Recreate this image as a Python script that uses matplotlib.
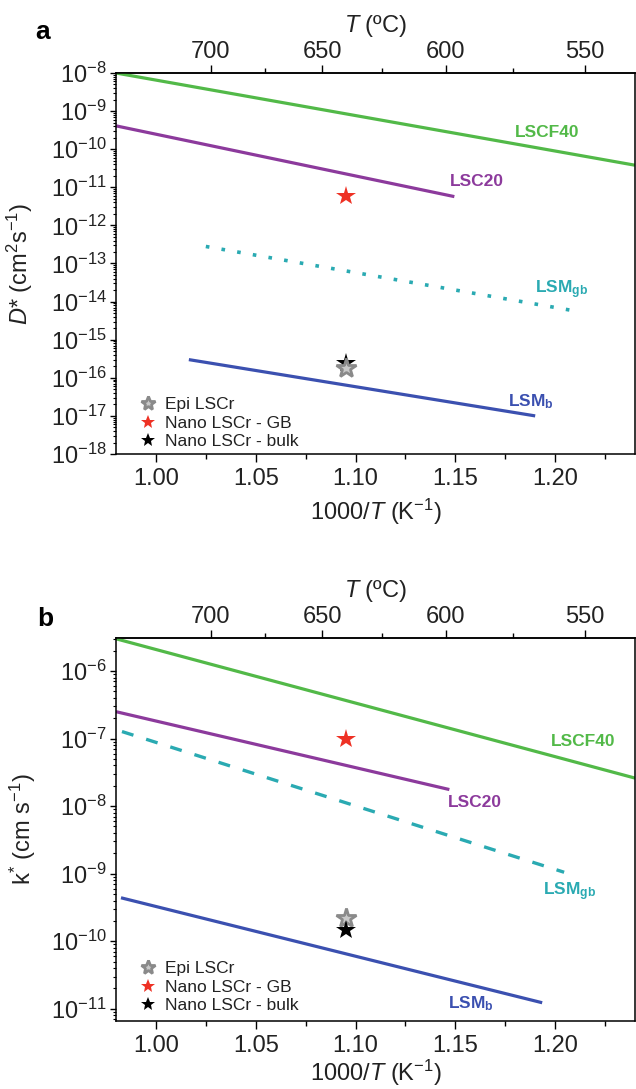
import numpy as np
import matplotlib
matplotlib.use("Agg")
import matplotlib.pyplot as plt
from matplotlib.ticker import NullFormatter, FixedLocator, LogFormatterSciNotation

plt.rcParams['font.family'] = ['Liberation Sans', 'DejaVu Sans']
plt.rcParams['mathtext.fontset'] = 'custom'
plt.rcParams['mathtext.rm'] = 'Liberation Sans'
plt.rcParams['mathtext.it'] = 'Liberation Sans:italic'
plt.rcParams['mathtext.bf'] = 'Liberation Sans:bold'

# ---------------- data (panel a: D*, cm2/s) ----------------
a_lscf40_x = [0.98, 1.24]
a_lscf40_y = [1.0e-8, 3.8e-11]
a_lsc20_x = [0.98, 1.1495]
a_lsc20_y = [4.1e-10, 5.7e-12]
a_lsmgb_x = [1.025, 1.2115]
a_lsmgb_y = [2.8e-13, 5.5e-15]
a_lsmb_x = [1.0165, 1.19]
a_lsmb_y = [3.0e-16, 1.0e-17]
a_star_x = 1.095
a_epi = 1.8e-16
a_gb = 6.0e-12
a_bulk = 2.5e-16
a_yticks_exp = list(range(-18, -7))

# ---------------- data (panel b: k*, cm/s) ----------------
b_lscf40_x = [0.98, 1.24]
b_lscf40_y = [3.0e-6, 2.6e-8]
b_lsc20_x = [0.98, 1.147]
b_lsc20_y = [2.5e-7, 1.76e-8]
b_lsmgb_x = [0.983, 1.2045]
b_lsmgb_y = [1.27e-7, 1.05e-9]
b_lsmb_x = [0.9825, 1.1935]
b_lsmb_y = [4.4e-10, 1.23e-11]
b_star_x = 1.095
b_epi = 2.2e-10
b_gb = 9.8e-8
b_bulk = 1.46e-10
b_yticks_exp = list(range(-11, -5))

top_ticks_C = [700, 650, 600, 550]
top_minor_C = [675, 625, 575]
bottom_ticks = [1.00, 1.05, 1.10, 1.15, 1.20]
legend_labels = ['Epi LSCr', 'Nano LSCr - GB', 'Nano LSCr - bulk']

GREEN = '#52b948'
PURPLE = '#8c3a9c'
TEAL = '#2aaab2'
BLUE = '#3b50b0'
RED = '#ee3124'

FS = 17

W, H = 636, 1089
fig = plt.figure(figsize=(W / 100, H / 100), dpi=100)


def frac(left, top, right, bottom):
    return [left / W, 1 - bottom / H, (right - left) / W, (bottom - top) / H]


def style_axes(ax, ylim, yexps, xlabelpad):
    ax.set_yscale('log')
    ax.set_xlim(0.98, 1.24)
    ax.set_ylim(*ylim)
    ax.set_xticks(bottom_ticks)
    ax.set_xticklabels(['%.2f' % v for v in bottom_ticks])
    ax.xaxis.set_minor_locator(FixedLocator([1.025, 1.075, 1.125, 1.175, 1.225]))
    majors = [10.0 ** e for e in yexps]
    ax.yaxis.set_major_locator(FixedLocator(majors))
    ax.yaxis.set_major_formatter(LogFormatterSciNotation())
    minors = [m * 10.0 ** e for e in range(yexps[0] - 1, yexps[-1] + 1)
              for m in range(2, 10)]
    minors = [v for v in minors if ylim[0] <= v <= ylim[1]]
    ax.yaxis.set_minor_locator(FixedLocator(minors))
    ax.yaxis.set_minor_formatter(NullFormatter())
    ax.tick_params(axis='x', which='major', direction='out', length=5.5, width=1.0,
                   labelsize=FS, pad=4.5, labelcolor='#222222')
    ax.tick_params(axis='x', which='minor', direction='out', length=3.5, width=1.0)
    ax.tick_params(axis='y', which='major', direction='out', length=4, width=1.0,
                   labelsize=FS, pad=2.5, labelcolor='#222222')
    ax.tick_params(axis='y', which='minor', direction='out', length=2.2, width=0.8)
    for s in ax.spines.values():
        s.set_linewidth(1.1)
    sec = ax.secondary_xaxis('top', functions=(lambda x: 1000.0 / x - 273.15,
                                               lambda t: 1000.0 / (t + 273.15)))
    sec.set_xticks(top_ticks_C)
    sec.set_xticklabels([str(t) for t in top_ticks_C])
    sec.xaxis.set_minor_locator(FixedLocator(top_minor_C))
    sec.tick_params(axis='x', which='major', direction='out', length=5.5, width=1.0,
                    labelsize=FS, pad=2, labelcolor='#222222')
    sec.tick_params(axis='x', which='minor', direction='out', length=3.5, width=1.0)
    sec.spines['top'].set_linewidth(1.1)
    sec.set_xlabel(r'$\it{T}$ (ºC)', fontsize=FS, labelpad=6, color='#222222')
    ax.set_xlabel(r'1000/$\it{T}$ (K$^{-1}$)', fontsize=FS, labelpad=xlabelpad,
                  color='#222222')
    return sec


def stars(ax, x, epi, gb, bulk, epi_on_top):
    ax.plot([x], [gb], linestyle='none', marker='*', markersize=15, color=RED,
            markeredgewidth=0, label=legend_labels[1], zorder=5)
    ax.plot([x], [bulk], linestyle='none', marker='*', markersize=15, color='black',
            markeredgewidth=0, label=legend_labels[2], zorder=6 if not epi_on_top else 4)
    ax.plot([x], [epi], linestyle='none', marker='*', markersize=15,
            markerfacecolor='#c9c9c9', markeredgecolor='#8a8a8a', markeredgewidth=2.0,
            label=legend_labels[0], zorder=5)


def legend(ax, anchor):
    h, l = ax.get_legend_handles_labels()
    order = [l.index(s) for s in legend_labels]
    leg = ax.legend([h[i] for i in order], [l[i] for i in order], loc='lower left',
                    bbox_to_anchor=anchor, frameon=False, fontsize=12.5, markerscale=0.72,
                    handlelength=1.0, handletextpad=0.5, labelspacing=0.2, borderpad=0,
                    borderaxespad=0)
    for t in leg.get_texts():
        t.set_color('#222222')


# ---------------- panel a ----------------
axa = fig.add_axes(frac(116, 73, 635, 454))
style_axes(axa, (1e-18, 1e-8), a_yticks_exp, xlabelpad=5)
axa.plot(a_lscf40_x, a_lscf40_y, color=GREEN, lw=2.3, solid_capstyle='butt')
axa.plot(a_lsc20_x, a_lsc20_y, color=PURPLE, lw=2.3, solid_capstyle='butt')
axa.plot(a_lsmgb_x, a_lsmgb_y, color=TEAL, lw=2.6, linestyle=(0, (1, 3.4)))
axa.plot(a_lsmb_x, a_lsmb_y, color=BLUE, lw=2.3, solid_capstyle='butt')
stars(axa, a_star_x, a_epi, a_gb, a_bulk, epi_on_top=True)
axa.text(1.196, 10 ** -9.55, 'LSCF40', color=GREEN, fontsize=12.5, fontweight='bold',
         ha='center', va='center')
axa.text(1.161, 10 ** -10.86, 'LSC20', color=PURPLE, fontsize=12.5, fontweight='bold',
         ha='center', va='center')
axa.text(1.203, 10 ** -13.68, r'LSM$_{\mathbf{gb}}$', color=TEAL, fontsize=12.5,
         fontweight='bold', ha='center', va='center')
axa.text(1.188, 10 ** -16.62, r'LSM$_{\mathbf{b}}$', color=BLUE, fontsize=12.5,
         fontweight='bold', ha='center', va='center')
axa.set_ylabel(r'$\it{D}$* (cm$^{2}$s$^{-1}$)', fontsize=FS, color='#222222')
axa.yaxis.set_label_coords(-0.157, 0.5)
legend(axa, (0.045, 0.012))
fig.text(43 / W, 1 - 32 / H, 'a', fontsize=19, fontweight='bold', ha='center', va='center')

# ---------------- panel b ----------------
axb = fig.add_axes(frac(116, 638, 635, 1021))
style_axes(axb, (6.6e-12, 3.08e-6), b_yticks_exp, xlabelpad=1)
axb.plot(b_lscf40_x, b_lscf40_y, color=GREEN, lw=2.3, solid_capstyle='butt')
axb.plot(b_lsc20_x, b_lsc20_y, color=PURPLE, lw=2.3, solid_capstyle='butt')
axb.plot(b_lsmgb_x, b_lsmgb_y, color=TEAL, lw=2.4, linestyle=(0, (3.6, 4.0)))
axb.plot(b_lsmb_x, b_lsmb_y, color=BLUE, lw=2.3, solid_capstyle='butt')
stars(axb, b_star_x, b_epi, b_gb, b_bulk, epi_on_top=False)
axb.text(1.214, 10 ** -7.05, 'LSCF40', color=GREEN, fontsize=12.5, fontweight='bold',
         ha='center', va='center')
axb.text(1.160, 10 ** -7.95, 'LSC20', color=PURPLE, fontsize=12.5, fontweight='bold',
         ha='center', va='center')
axb.text(1.207, 10 ** -9.27, r'LSM$_{\mathbf{gb}}$', color=TEAL, fontsize=12.5,
         fontweight='bold', ha='center', va='center')
axb.text(1.158, 10 ** -10.93, r'LSM$_{\mathbf{b}}$', color=BLUE, fontsize=12.5,
         fontweight='bold', ha='center', va='center')
axb.set_ylabel(r'k$^{*}$ (cm s$^{-1}$)', fontsize=FS, color='#222222')
axb.yaxis.set_label_coords(-0.15, 0.5)
legend(axb, (0.045, 0.02))
fig.text(45 / W, 1 - 619 / H, 'b', fontsize=19, fontweight='bold', ha='center', va='center')

fig.savefig('out.png', dpi=100)
